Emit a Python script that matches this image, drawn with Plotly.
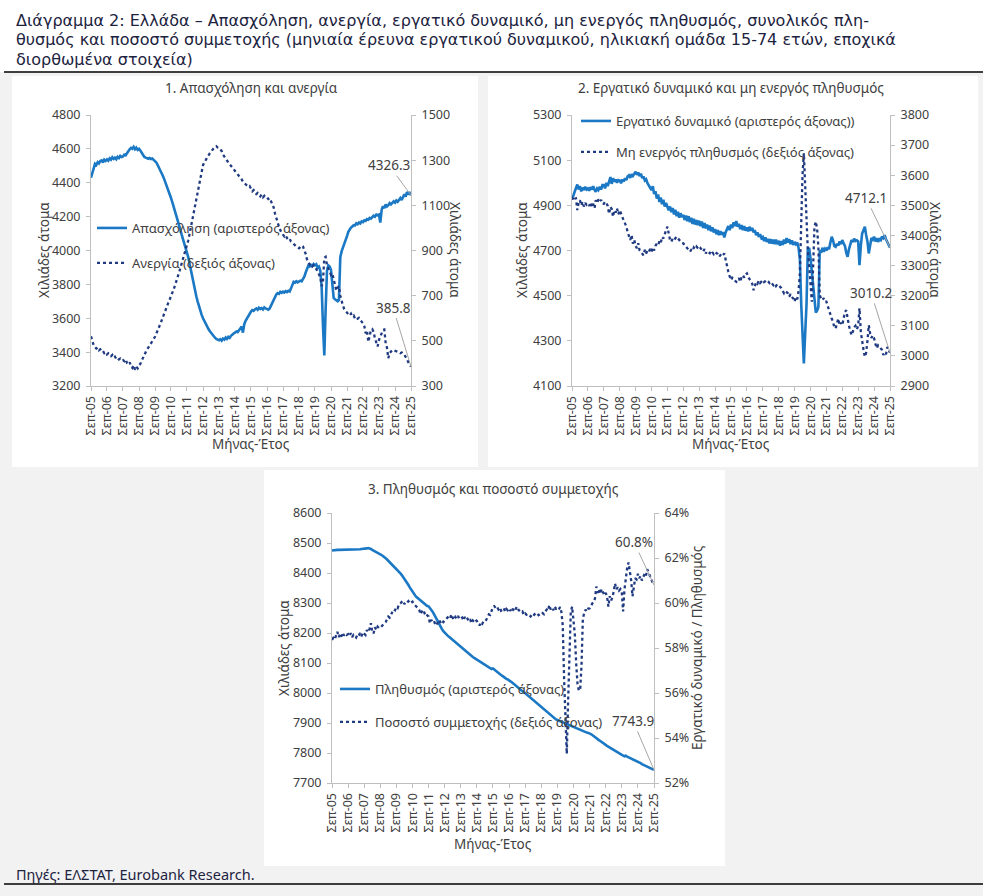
import pandas as pd
import plotly.graph_objects as go

# ---------------- data (monthly, Sep-2005 ... Sep-2025) ----------------
months = pd.date_range("2005-09-01", "2025-09-01", freq="MS")

tick_dates = ["2005-09-01", "2006-09-01", "2007-09-01", "2008-09-01", "2009-09-01",
              "2010-09-01", "2011-09-01", "2012-09-01", "2013-09-01", "2014-09-01",
              "2015-09-01", "2016-09-01", "2017-09-01", "2018-09-01", "2019-09-01",
              "2020-09-01", "2021-09-01", "2022-09-01", "2023-09-01", "2024-09-01",
              "2025-09-01"]
tick_labels = ["Σεπ-05", "Σεπ-06", "Σεπ-07", "Σεπ-08", "Σεπ-09", "Σεπ-10", "Σεπ-11",
               "Σεπ-12", "Σεπ-13", "Σεπ-14", "Σεπ-15", "Σεπ-16", "Σεπ-17", "Σεπ-18",
               "Σεπ-19", "Σεπ-20", "Σεπ-21", "Σεπ-22", "Σεπ-23", "Σεπ-24", "Σεπ-25"]

# Chart 1 - employment (left axis, thousands)
employment = [
    4430, 4458, 4490, 4512, 4505, 4521, 4514, 4528, 4532, 4520, 4536, 4529,
    4538, 4530, 4544, 4536, 4550, 4541, 4548, 4539, 4553, 4546, 4558, 4552,
    4555, 4566, 4562, 4578, 4586, 4598, 4606, 4601, 4612, 4598, 4607, 4594,
    4600, 4590, 4575, 4560, 4552, 4548, 4545, 4542, 4546, 4540, 4543, 4536,
    4530, 4520, 4505, 4490, 4475, 4455, 4440, 4420, 4400, 4380, 4360, 4335,
    4310, 4285, 4260, 4230, 4200, 4175, 4150, 4125, 4095, 4070, 4045, 4020,
    3995, 3960, 3920, 3880, 3840, 3800, 3765, 3730, 3700, 3670, 3645, 3620,
    3600, 3582, 3565, 3550, 3538, 3525, 3515, 3502, 3492, 3485, 3478, 3474,
    3470, 3476, 3468, 3480, 3474, 3486, 3478, 3490, 3484, 3496, 3505, 3510,
    3515, 3522, 3518, 3530, 3545, 3552, 3515, 3565, 3585, 3600, 3612, 3630,
    3640, 3648, 3644, 3652, 3658, 3650, 3662, 3655, 3660, 3652, 3664, 3658,
    3655, 3650, 3658, 3675, 3695, 3712, 3727, 3740, 3748, 3744, 3756, 3750,
    3757, 3752, 3760, 3755, 3762, 3758, 3775, 3800, 3815, 3810, 3818, 3812,
    3816, 3822, 3818, 3830, 3845, 3870, 3895, 3910, 3905, 3915, 3908, 3920,
    3912, 3918, 3900, 3905, 3880, 3780, 3560, 3380, 3650, 3880, 3912, 3905,
    3885, 3790, 3720, 3712, 3705, 3700, 3708, 3960, 3995, 4015, 4040, 4062,
    4085, 4110, 4128, 4135, 4142, 4150, 4148, 4160, 4155, 4165, 4160, 4172,
    4168, 4178, 4175, 4185, 4182, 4192, 4188, 4198, 4205, 4200, 4212, 4208,
    4212, 4165, 4240, 4262, 4250, 4272, 4260, 4268, 4280, 4272, 4285, 4290,
    4282, 4295, 4288, 4300, 4310, 4298, 4320, 4332, 4318, 4345, 4335, 4340,
    4326.3]

# Chart 1 - unemployment (right axis, thousands)
unemployment = [
    520, 498, 480, 472, 466, 470, 458, 462, 452, 455, 446, 450,
    440, 445, 436, 432, 438, 426, 430, 420, 425, 418, 422, 414,
    415, 410, 418, 402, 396, 405, 388, 380, 392, 372, 385, 378,
    392, 398, 412, 425, 440, 452, 462, 470, 478, 488, 498, 508,
    518, 530, 545, 560, 575, 592, 610, 625, 640, 655, 668, 682,
    695, 712, 728, 745, 762, 780, 800, 820, 842, 862, 882, 900,
    917, 945, 975, 1005, 1035, 1065, 1100, 1135, 1170, 1200, 1230, 1255,
    1278, 1290, 1302, 1310, 1320, 1330, 1338, 1345, 1352, 1358, 1362, 1356,
    1355, 1348, 1340, 1325, 1315, 1305, 1298, 1290, 1282, 1275, 1268, 1262,
    1255, 1245, 1238, 1230, 1222, 1215, 1205, 1198, 1192, 1188, 1182, 1185,
    1170, 1162, 1168, 1158, 1150, 1155, 1146, 1140, 1148, 1136, 1142, 1134,
    1135, 1128, 1132, 1120, 1108, 1090, 1065, 1040, 1020, 1005, 990, 978,
    970, 962, 968, 955, 948, 952, 940, 935, 928, 922, 918, 914,
    910, 915, 922, 918, 905, 885, 862, 845, 838, 842, 830, 835,
    828, 818, 806, 790, 782, 742, 760, 868, 872, 835, 822, 805,
    792, 798, 770, 745, 722, 735, 742, 700, 675, 655, 640, 630,
    625, 618, 612, 620, 608, 612, 600, 605, 598, 602, 590, 585,
    578, 565, 533, 545, 495, 530, 548, 552, 540, 510, 489, 475,
    504, 520, 535, 548, 550, 489, 470, 423, 445, 455, 460, 458,
    457, 455, 452, 450, 445, 448, 440, 438, 430, 420, 405, 395,
    385.8]

# Chart 2 - labour force (left axis, thousands)
labour_force = [
    4935, 4942, 4960, 4975, 4992, 4970, 4985, 4962, 4978, 4968, 4982, 4970,
    4975, 4965, 4980, 4970, 4985, 4968, 4960, 4975, 4968, 4982, 4970, 4990,
    4990, 4975, 5000, 4985, 5010, 5025, 4995, 5020, 5005, 5015, 5000, 5012,
    5010, 4998, 5015, 5005, 5020, 5012, 5028, 5033, 5022, 5038, 5030, 5042,
    5049, 5035, 5045, 5030, 5040, 5020, 5028, 5010, 5015, 4998, 4990, 4978,
    4968, 4985, 4950, 4962, 4930, 4948, 4915, 4935, 4905, 4925, 4895, 4910,
    4894, 4878, 4895, 4870, 4888, 4860, 4880, 4852, 4872, 4845, 4865, 4848,
    4858, 4835, 4855, 4830, 4852, 4825, 4845, 4818, 4840, 4815, 4835, 4812,
    4832, 4808, 4828, 4800, 4822, 4798, 4815, 4790, 4810, 4785, 4802, 4780,
    4795, 4772, 4790, 4768, 4785, 4770, 4782, 4758, 4780, 4795, 4808, 4790,
    4815, 4800, 4825, 4808, 4830, 4805, 4818, 4795, 4812, 4790, 4808, 4788,
    4802, 4785, 4805, 4788, 4800, 4780, 4790, 4768, 4780, 4760, 4772, 4755,
    4760, 4742, 4758, 4738, 4752, 4732, 4750, 4730, 4748, 4728, 4748, 4732,
    4738, 4722, 4742, 4725, 4748, 4730, 4755, 4735, 4750, 4728, 4745, 4725,
    4738, 4728, 4735, 4712, 4660, 4460, 4320, 4200, 4330, 4460, 4705, 4712,
    4665, 4610, 4540, 4470, 4425, 4435, 4450, 4700, 4690, 4712, 4695, 4708,
    4700, 4715, 4705, 4735, 4761, 4745, 4720, 4716, 4730, 4722, 4740, 4728,
    4746, 4732, 4720, 4690, 4672, 4705, 4725, 4746, 4738, 4752, 4742, 4745,
    4740, 4635, 4720, 4775, 4790, 4805, 4770, 4740, 4687, 4735, 4755, 4748,
    4761, 4740, 4755, 4738, 4750, 4746, 4762, 4755, 4768, 4750, 4735, 4720,
    4712.1]

# Chart 2 - inactive population (right axis, thousands)
inactive = [
    3528, 3515, 3522, 3523, 3484, 3510, 3517, 3500, 3512, 3496, 3508, 3502,
    3506, 3498, 3510, 3495, 3505, 3490, 3517, 3508, 3520, 3512, 3518, 3505,
    3505, 3512, 3507, 3498, 3472, 3495, 3488, 3462, 3484, 3476, 3490, 3470,
    3484, 3470, 3462, 3450, 3440, 3429, 3412, 3400, 3385, 3401, 3373, 3385,
    3365, 3358, 3374, 3351, 3345, 3340, 3334, 3352, 3340, 3350, 3345, 3355,
    3346, 3360, 3350, 3365, 3373, 3368, 3380, 3374, 3395, 3390, 3407, 3417,
    3429, 3400, 3385, 3379, 3390, 3385, 3392, 3396, 3390, 3385, 3380, 3375,
    3374, 3368, 3362, 3355, 3350, 3346, 3352, 3348, 3360, 3355, 3363, 3358,
    3352, 3358, 3350, 3346, 3355, 3340, 3348, 3345, 3341, 3350, 3344, 3338,
    3345, 3341, 3338, 3329, 3335, 3340, 3335, 3340, 3320, 3295, 3280, 3265,
    3252, 3260, 3257, 3250, 3246, 3252, 3258, 3246, 3262, 3268, 3260, 3270,
    3274, 3262, 3255, 3248, 3240, 3218, 3235, 3245, 3240, 3250, 3242, 3248,
    3252, 3245, 3250, 3252, 3248, 3242, 3246, 3238, 3235, 3240, 3232, 3238,
    3235, 3230, 3225, 3218, 3208, 3215, 3210, 3208, 3197, 3205, 3195, 3191,
    3180, 3195, 3188, 3215, 3274, 3474, 3600, 3673, 3560, 3480, 3352, 3300,
    3240, 3180, 3300, 3429, 3446, 3420, 3360, 3202, 3190, 3185, 3192, 3180,
    3180, 3165, 3150, 3135, 3124, 3113, 3095, 3091, 3105, 3124, 3102, 3110,
    3102, 3125, 3146, 3152, 3120, 3100, 3085, 3069, 3080, 3095, 3100, 3088,
    3100, 3158, 3080, 3041, 3020, 2997, 3010, 3050, 3102, 3075, 3060, 3068,
    3058, 3040, 3025, 3035, 3030, 3028, 3020, 3003, 3010, 3005, 3030, 3020,
    3010.2]

# Chart 3 - population 15-74 (left axis, thousands)
population = [
    8475, 8476, 8476, 8477, 8477, 8477, 8477, 8477, 8477, 8477, 8477, 8477,
    8477, 8477, 8477, 8477, 8477, 8477, 8478, 8478, 8479, 8479, 8480, 8480,
    8481, 8481, 8482, 8483, 8482, 8480, 8477, 8474, 8471, 8468, 8466, 8464,
    8462, 8460, 8457, 8453, 8449, 8445, 8441, 8437, 8432, 8428, 8423, 8419,
    8415, 8410, 8405, 8399, 8393, 8387, 8381, 8374, 8367, 8360, 8352, 8344,
    8336, 8330, 8325, 8320, 8316, 8312, 8308, 8304, 8300, 8296, 8293, 8290,
    8289, 8284, 8278, 8271, 8263, 8254, 8245, 8236, 8228, 8220, 8213, 8206,
    8200, 8196, 8192, 8188, 8184, 8180, 8176, 8172, 8168, 8165, 8161, 8158,
    8155, 8151, 8147, 8143, 8139, 8135, 8131, 8127, 8123, 8120, 8117, 8114,
    8111, 8108, 8105, 8102, 8099, 8096, 8093, 8090, 8087, 8084, 8082, 8080,
    8082, 8078, 8074, 8071, 8067, 8063, 8060, 8057, 8053, 8050, 8047, 8045,
    8043, 8039, 8036, 8032, 8028, 8025, 8021, 8017, 8014, 8010, 8006, 8003,
    7999, 7995, 7991, 7988, 7984, 7980, 7976, 7972, 7968, 7964, 7961, 7957,
    7954, 7950, 7946, 7942, 7938, 7935, 7931, 7927, 7923, 7919, 7915, 7912,
    7910, 7908, 7906, 7904, 7903, 7901, 7899, 7897, 7895, 7893, 7891, 7889,
    7888, 7886, 7884, 7882, 7880, 7878, 7876, 7874, 7872, 7870, 7868, 7867,
    7866, 7863, 7860, 7856, 7853, 7850, 7846, 7843, 7840, 7836, 7833, 7830,
    7827, 7824, 7821, 7818, 7815, 7812, 7809, 7807, 7804, 7801, 7798, 7796,
    7793, 7791, 7789, 7791, 7788, 7786, 7784, 7782, 7780, 7777, 7775, 7773,
    7771, 7768, 7766, 7763, 7761, 7758, 7756, 7753, 7751, 7749, 7747, 7745,
    7743.9]

# Chart 3 - participation rate (right axis, %)
participation = [
    58.36, 58.45, 58.38, 58.55, 58.72, 58.48, 58.62, 58.50, 58.68, 58.55, 58.64, 58.58,
    58.62, 58.52, 58.66, 58.48, 58.58, 58.50, 58.46, 58.60, 58.55, 58.66, 58.52, 58.70,
    58.65, 58.58, 58.80, 58.70, 58.85, 59.10, 58.72, 58.65, 58.92, 58.80, 58.95, 58.88,
    58.90, 58.98, 59.02, 59.10, 59.15, 59.25, 59.40, 59.35, 59.52, 59.60, 59.72, 59.68,
    59.83, 59.78, 59.95, 59.98, 60.05, 60.10, 59.95, 60.05, 60.02, 60.08, 59.98, 60.04,
    60.06, 59.95, 59.90, 59.84, 59.78, 59.70, 59.50, 59.62, 59.70, 59.55, 59.60, 59.45,
    59.40, 59.10, 59.25, 59.15, 59.20, 59.05, 59.00, 59.18, 59.25, 59.10, 59.20, 59.15,
    59.20, 59.28, 59.35, 59.40, 59.32, 59.50, 59.35, 59.25, 59.38, 59.30, 59.42, 59.28,
    59.30, 59.35, 59.22, 59.38, 59.25, 59.30, 59.20, 59.28, 59.10, 59.22, 59.15, 59.25,
    59.20, 59.12, 59.00, 59.15, 59.08, 59.20, 59.18, 59.25, 59.35, 59.50, 59.47, 59.65,
    59.83, 59.86, 59.78, 59.84, 59.72, 59.80, 59.66, 59.70, 59.78, 59.62, 59.74, 59.68,
    59.76, 59.65, 59.80, 59.70, 59.62, 59.75, 59.84, 59.70, 59.66, 59.58, 59.62, 59.47,
    59.54, 59.48, 59.52, 59.45, 59.40, 59.48, 59.42, 59.50, 59.45, 59.52, 59.46, 59.50,
    59.47, 59.55, 59.50, 59.62, 59.70, 59.65, 59.91, 59.72, 59.80, 59.68, 59.85, 59.74,
    59.76, 59.70, 59.82, 59.60, 59.00, 56.60, 54.60, 53.30, 55.60, 57.60, 59.60, 59.84,
    59.30, 58.60, 57.30, 56.40, 56.10, 56.20, 57.20, 59.30, 59.55, 59.70, 59.62, 59.75,
    59.76, 59.90, 59.98, 60.05, 60.20, 60.73, 60.45, 60.60, 60.40, 60.62, 60.50, 60.35,
    60.45, 60.30, 59.84, 60.30, 60.10, 60.25, 60.50, 60.87, 60.60, 60.70, 60.55, 60.62,
    60.50, 59.63, 60.60, 61.20, 61.55, 61.80, 61.40, 61.00, 60.30, 60.85, 61.10, 61.05,
    61.30, 61.10, 61.20, 61.00, 61.15, 61.30, 61.20, 61.50, 61.35, 61.20, 61.00, 60.90,
    60.8]

# ---------------- styling ----------------
W, H = 983, 896
FONT = "Noto Sans"
TITLE_FONT = "DejaVu Sans"
BLUE = "#1b78c4"
NAVY = "#1f3a80"
AXIS = "#bfbfbf"
TXT = "#404040"
TITLE_C = "#1c2340"
PAGE = "#f2f2f2"


def px(x):
    return x / W


def py(y):
    return 1 - y / H


def xs(series):
    return months[:len(series)]


fig = go.Figure()

SOLID = dict(color=BLUE, width=2.6)
DOTTED = dict(color=NAVY, width=2.3, dash="dot")

# chart 1
fig.add_trace(go.Scatter(x=xs(employment), y=employment, mode="lines", xaxis="x", yaxis="y",
                         line=SOLID, name="Απασχόληση (αριστερός άξονας)",
                         legend="legend", legendgroup="a"))
fig.add_trace(go.Scatter(x=xs(unemployment), y=unemployment, mode="lines", xaxis="x", yaxis="y2",
                         line=DOTTED, name="Ανεργία (δεξιός άξονας)",
                         legend="legend", legendgroup="b"))
# chart 2
fig.add_trace(go.Scatter(x=xs(labour_force), y=labour_force, mode="lines", xaxis="x2", yaxis="y3",
                         line=SOLID, name="Εργατικό δυναμικό (αριστερός άξονας))",
                         legend="legend2", legendgroup="c"))
fig.add_trace(go.Scatter(x=xs(inactive), y=inactive, mode="lines", xaxis="x2", yaxis="y4",
                         line=DOTTED, name="Μη ενεργός πληθυσμός (δεξιός άξονας)",
                         legend="legend2", legendgroup="d"))
# chart 3
fig.add_trace(go.Scatter(x=xs(population), y=population, mode="lines", xaxis="x3", yaxis="y5",
                         line=SOLID, name="Πληθυσμός (αριστερός άξονας)",
                         legend="legend3", legendgroup="e"))
fig.add_trace(go.Scatter(x=xs(participation), y=participation, mode="lines", xaxis="x3", yaxis="y6",
                         line=DOTTED, name="Ποσοστό συμμετοχής (δεξιός άξονας)",
                         legend="legend3", legendgroup="f"))

common = dict(showline=True, linecolor=AXIS, linewidth=1, ticks="outside", ticklen=4,
              tickcolor=AXIS, showgrid=False, zeroline=False, automargin=False,
              tickfont=dict(family=FONT, size=12.5, color=TXT))
ycommon = dict(common, ticklabelstandoff=3, tickformat="d")
xcommon = dict(common, type="date", range=[months[0], months[-1]], tickmode="array",
               tickvals=tick_dates, ticktext=tick_labels, tickangle=-90)

top_dom = [py(386), py(115)]
bot_dom = [py(783), py(513)]

fig.update_layout(
    xaxis=dict(xcommon, domain=[px(91), px(411)], anchor="y"),
    yaxis=dict(ycommon, domain=top_dom, anchor="x", range=[3200, 4800], tick0=3200, dtick=200),
    yaxis2=dict(ycommon, overlaying="y", side="right", anchor="x", range=[300, 1500],
                tick0=300, dtick=200),
    xaxis2=dict(xcommon, domain=[px(572), px(890)], anchor="y3"),
    yaxis3=dict(ycommon, domain=top_dom, anchor="x2", range=[4100, 5300], tick0=4100, dtick=200),
    yaxis4=dict(ycommon, overlaying="y3", side="right", anchor="x2", range=[2900, 3800],
                tick0=2900, dtick=100),
    xaxis3=dict(xcommon, domain=[px(332), px(654)], anchor="y5"),
    yaxis5=dict(ycommon, domain=bot_dom, anchor="x3", range=[7700, 8600], tick0=7700, dtick=100),
    yaxis6=dict(ycommon, overlaying="y5", side="right", anchor="x3", range=[52, 64], tick0=52,
                dtick=2, ticksuffix="%"),
)

leg_common = dict(xanchor="left", yanchor="top", bgcolor="rgba(0,0,0,0)", borderwidth=0,
                  font=dict(family=FONT, size=13, color=TXT), itemwidth=30, traceorder="grouped")
fig.update_layout(
    legend=dict(leg_common, x=px(92), y=py(213), tracegroupgap=15),
    legend2=dict(leg_common, x=px(576), y=py(106), tracegroupgap=11),
    legend3=dict(leg_common, x=px(335), y=py(674), tracegroupgap=13),
)

# backgrounds / panels / rules
shapes = [
    dict(type="rect", xref="paper", yref="paper", x0=0, x1=1, y0=py(72), y1=1,
         fillcolor="white", line_width=0, layer="below"),
    dict(type="rect", xref="paper", yref="paper", x0=px(12), x1=px(478), y0=py(467), y1=py(76),
         fillcolor="white", line_width=0, layer="below"),
    dict(type="rect", xref="paper", yref="paper", x0=px(488), x1=px(978), y0=py(467), y1=py(76),
         fillcolor="white", line_width=0, layer="below"),
    dict(type="rect", xref="paper", yref="paper", x0=px(264), x1=px(725), y0=py(866), y1=py(470),
         fillcolor="white", line_width=0, layer="below"),
    dict(type="line", xref="paper", yref="paper", x0=px(4), x1=1, y0=py(72), y1=py(72),
         line=dict(color="black", width=1.6)),
    dict(type="line", xref="paper", yref="paper", x0=px(4), x1=1, y0=py(884), y1=py(884),
         line=dict(color="black", width=1.6)),
]
fig.update_layout(shapes=shapes)

ann = []
title_lines = [
    "Διάγραμμα 2: Ελλάδα – Απασχόληση, ανεργία, εργατικό δυναμικό, μη ενεργός πληθυσμός, συνολικός πλη-",
    "θυσμός και ποσοστό συμμετοχής (μηνιαία έρευνα εργατικού δυναμικού, ηλικιακή ομάδα 15-74 ετών, εποχικά",
    "διορθωμένα στοιχεία)",
]
for i, t in enumerate(title_lines):
    ann.append(dict(text=t, xref="paper", yref="paper", x=px(14), y=py(20 + 20 * i),
                    xanchor="left", yanchor="middle", showarrow=False,
                    font=dict(family=TITLE_FONT, size=16, color=TITLE_C)))
ann.append(dict(text="Πηγές: ΕΛΣΤΑΤ, Eurobank Research.", xref="paper", yref="paper",
                x=px(14), y=py(874), xanchor="left", yanchor="middle", showarrow=False,
                font=dict(family=FONT, size=14.5, color=TITLE_C)))

sub_titles = [("1. Απασχόληση και ανεργία", 251, 88),
              ("2. Εργατικό δυναμικό και μη ενεργός πληθυσμός", 731, 88),
              ("3. Πληθυσμός και ποσοστό συμμετοχής", 493, 489)]
for t, x, y in sub_titles:
    ann.append(dict(text=t, xref="paper", yref="paper", x=px(x), y=py(y), xanchor="center",
                    yanchor="middle", showarrow=False, font=dict(family=FONT, size=13.5, color=TXT)))

axis_titles = [("Χιλιάδες άτομα", 44, 250, -90), ("Χιλιάδες άτομα", 455, 250, 90),
               ("Χιλιάδες άτομα", 522, 250, -90), ("Χιλιάδες άτομα", 935, 250, 90),
               ("Χιλιάδες άτομα", 284, 648, -90),
               ("Εργατικό δυναμικό / Πληθυσμός", 697, 648, -90),
               ("Μήνας-Έτος", 251, 444, 0), ("Μήνας-Έτος", 731, 444, 0), ("Μήνας-Έτος", 493, 844, 0)]
for t, x, y, a in axis_titles:
    ann.append(dict(text=t, xref="paper", yref="paper", x=px(x), y=py(y), xanchor="center",
                    yanchor="middle", textangle=a, showarrow=False,
                    font=dict(family=FONT, size=13.5, color=TXT)))

end_labels = [("x", "y", employment, "{:.1f}", -22, -30),
              ("x", "y2", unemployment, "{:.1f}", -18, -59),
              ("x2", "y3", labour_force, "{:.1f}", -24, -50),
              ("x2", "y4", inactive, "{:.1f}", -19, -60),
              ("x3", "y6", participation, "{:.1f}%", -20, -43),
              ("x3", "y5", population, "{:.1f}", -21, -49)]
for xr, yr, s, fmt, ax, ay in end_labels:
    ann.append(dict(text=fmt.format(s[-1]), xref=xr, yref=yr, x=months[len(s) - 1], y=s[-1],
                    ax=ax, ay=ay, showarrow=True, arrowhead=0, arrowwidth=1, arrowcolor="#a6a6a6",
                    standoff=0, font=dict(family=FONT, size=13.5, color=TXT)))
fig.update_layout(annotations=ann)

fig.update_layout(width=W, height=H, autosize=False,
                  margin=dict(l=0, r=0, t=0, b=0, pad=0, autoexpand=False),
                  paper_bgcolor=PAGE, plot_bgcolor="white", showlegend=True,
                  hovermode=False, font=dict(family=FONT, color=TXT))

fig.write_html("out.html", config={"displayModeBar": False, "staticPlot": False},
               post_script="document.body.style.margin='0px';document.body.style.padding='0px';")
